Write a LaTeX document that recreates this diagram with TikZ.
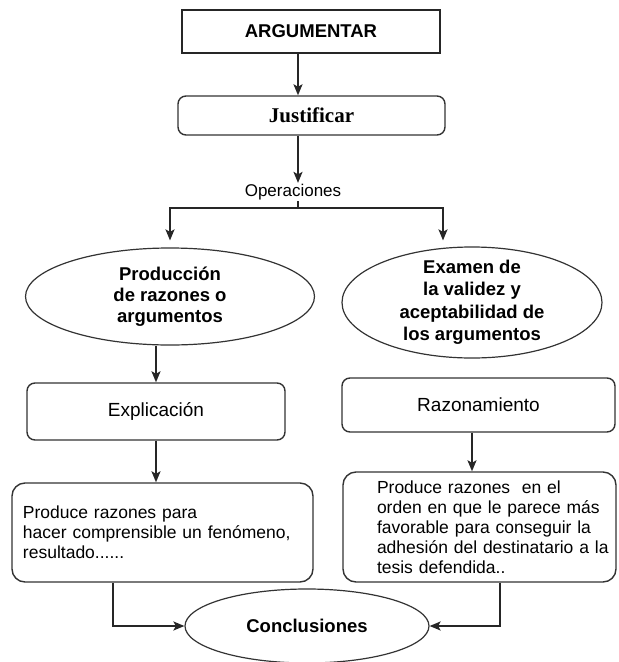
\documentclass[tikz,border=0pt]{standalone}
\usepackage{fontspec}
\setmainfont{Liberation Sans}
\newfontfamily\serifbf{Liberation Serif}
\usetikzlibrary{arrows.meta,shapes.geometric,calc}
\begin{document}
\begin{tikzpicture}[x=1pt,y=-1pt,
  conn/.style={line width=1.8pt, draw=black!85},
  arr/.style={conn, -{Stealth[length=11pt,width=9pt,inset=2.5pt]}},
  sqbox/.style={draw=black!85, line width=1.8pt, inner sep=0pt},
  rbox/.style={draw=black!80, line width=1.4pt, rounded corners=8pt, inner sep=0pt},
  tbox/.style={draw=black!80, line width=1.4pt, rounded corners=13pt, inner xsep=0pt, inner ysep=0pt,
    align=left, font=\fontsize{17.5}{20}\selectfont, execute at begin node={\leftskip=#1}},
  oval/.style={ellipse, draw=black!80, line width=1.2pt, inner sep=-14pt, align=center},
  boldtxt/.style={font=\fontsize{18.5}{#1}\selectfont\bfseries},
  regtxt/.style={font=\fontsize{19}{22}\selectfont}
]
\useasboundingbox (0,0) rectangle (619,662);

% top boxes
\node[sqbox, minimum width=258pt, minimum height=43pt, boldtxt=22] (A) at (311,31.5) {ARGUMENTAR};
\node[rbox, minimum width=267pt, minimum height=39pt, font=\fontsize{21}{24}\selectfont\serifbf\bfseries] (J) at (311.5,115.5) {Justificar};
\node[inner sep=1pt, font=\fontsize{17}{20}\selectfont] (O) at (293,192) {Operaciones};

% ellipses
\node[oval, minimum width=289pt, minimum height=97pt, boldtxt=21] (P) at (170,296.5) {Producción\\de razones o\\argumentos};
\node[oval, minimum width=260pt, minimum height=111pt, boldtxt=22.5] (E) at (472,302.5) {Examen de\\la validez y\\aceptabilidad de\\los argumentos};

% middle boxes
\node[rbox, minimum width=258pt, minimum height=57pt, regtxt] (X) at (156,411.5) {Explicación};
\node[rbox, minimum width=273pt, minimum height=54pt, regtxt] (R) at (478.5,405) {Razonamiento};

% text boxes
\node[tbox=11pt, text width=301pt, minimum height=99pt] (TL) at (162.5,532.5)
  {Produce razones para\\hacer comprensible un fenómeno,\\resultado......};
\node[tbox=34pt, text width=273pt, minimum height=110pt] (TR) at (479.5,527)
  {Produce razones \ en el\\orden en que le parece más\\favorable para conseguir la\\adhesión del destinatario a la\\tesis defendida..};

% conclusion
\node[oval, minimum width=244pt, minimum height=74pt, boldtxt=22] (C) at (307,626) {Conclusiones};

% spine coordinates
\coordinate (sp) at (298,0);
\coordinate (fork) at (298,208);
\coordinate (rbr) at (443,208);
\coordinate (lx) at (113,0);
\coordinate (rx) at (500,0);

% connectors
\draw[arr] (A.south -| sp) -- (J.north -| sp);
\draw[arr] (J.south -| sp) -- (O.north -| sp);
\draw[conn, line width=1.2pt] (O.south -| fork) -- (fork);
\draw[arr, shorten >=7pt] (fork) -| (P.north);
\draw[arr, shorten >=6pt] (fork) -- (rbr) -- (rbr |- E.north);
\draw[arr] (P.south -| X.north) -- (X.north);
\draw[arr] (X.south) -- (X.south |- TL.north);
\draw[arr] ($(R.south)+(-6.5,0)$) -- ($(R.south |- TR.north)+(-6.5,0)$);
\draw[arr] (TL.south -| lx) |- (C.west);
\draw[arr] (TR.south -| rx) |- (C.east);
\end{tikzpicture}
\end{document}
